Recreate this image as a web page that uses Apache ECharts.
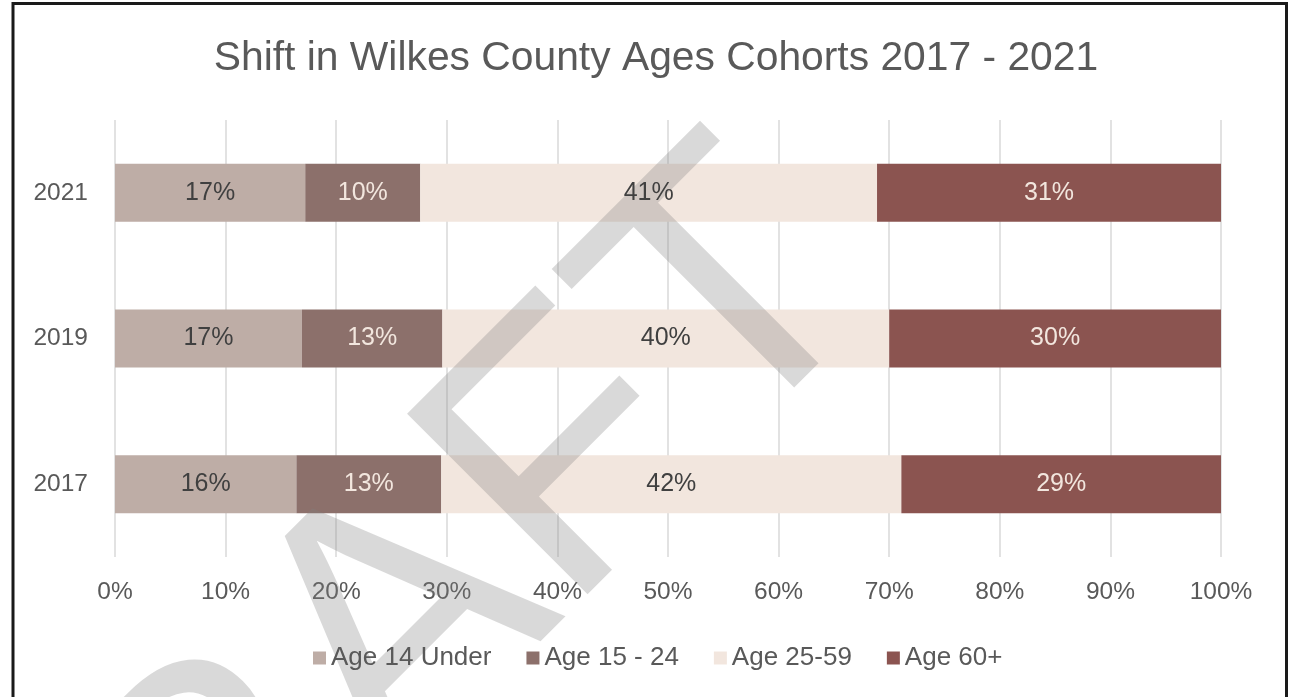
<!DOCTYPE html>
<html>
<head>
<meta charset="utf-8">
<style>
  html, body { margin: 0; padding: 0; background: #ffffff; }
  #chart { width: 1290px; height: 697px; }
</style>
<script src="https://cdn.jsdelivr.net/npm/echarts@6/dist/echarts.min.js"></script>
</head>
<body>
<div id="chart"></div>
<script>
const years = ['2017', '2019', '2021'];
const ageUnder14 = [16.4, 16.9, 17.2];
const age15to24 = [13.1, 12.7, 10.4];
const age25to59 = [41.6, 40.4, 41.3];
const age60plus = [28.9, 30.0, 31.1];
const seriesNames = ['Age 14 Under', 'Age 15 - 24', 'Age 25-59', 'Age 60+'];
const xTicks = [0, 10, 20, 30, 40, 50, 60, 70, 80, 90, 100];

const FONT = "'Liberation Sans', Arial, sans-serif";
const colors = ['#BEADA6', '#8C706B', '#F2E6DE', '#8B5450'];
const labelColors = ['#404040', '#F2E6DE', '#404040', '#F2E6DE'];
const seriesData = [ageUnder14, age15to24, age25to59, age60plus];

const chart = echarts.init(document.getElementById('chart'), null, { renderer: 'canvas' });

const barSeries = seriesNames.map((name, i) => ({
  name: name,
  type: 'bar',
  stack: 'total',
  barWidth: 58,
  barGap: '-100%',
  z: 2,
  data: seriesData[i],
  itemStyle: { color: colors[i] },
  label: { show: false }
}));

const labelSeries = seriesNames.map((name, i) => ({
  name: name,
  type: 'bar',
  stack: 'labels',
  barWidth: 58,
  barGap: '-100%',
  z: 5,
  silent: true,
  data: seriesData[i],
  itemStyle: { color: 'rgba(0,0,0,0)' },
  label: {
    show: true,
    position: 'inside',
    formatter: p => Math.round(p.value) + '%',
    fontFamily: FONT,
    fontSize: 25,
    color: labelColors[i]
  }
}));

const option = {
  backgroundColor: '#ffffff',
  animation: false,
  title: {
    text: 'Shift in Wilkes County Ages Cohorts 2017 - 2021',
    left: 651,
    textAlign: 'center',
    top: 33,
    textStyle: { fontFamily: FONT, fontSize: 40.8, fontWeight: 'normal', color: '#595959' }
  },
  grid: { left: 115, right: 69, top: 120, bottom: 140, containLabel: false },
  legend: {
    data: seriesNames,
    left: 308,
    top: 640,
    icon: 'rect',
    itemWidth: 13,
    itemHeight: 13,
    itemGap: 35,
    textStyle: { fontFamily: FONT, fontSize: 26, color: '#595959' }
  },
  xAxis: {
    type: 'value',
    min: xTicks[0],
    max: xTicks[xTicks.length - 1],
    interval: 10,
    axisLine: { show: false },
    axisTick: { show: false },
    axisLabel: { formatter: '{value}%', fontFamily: FONT, fontSize: 24.5, color: '#595959', margin: 23 },
    splitLine: { show: true, lineStyle: { color: '#d9d9d9', width: 1.5 } }
  },
  yAxis: {
    type: 'category',
    data: years,
    axisLine: { show: false },
    axisTick: { show: false },
    axisLabel: { fontFamily: FONT, fontSize: 24.5, color: '#595959', margin: 27 }
  },
  series: barSeries.concat(labelSeries),
  graphic: [
    {
      type: 'rect',
      z: 100,
      silent: true,
      shape: { x: 13, y: 3.5, width: 1273.5, height: 720 },
      style: { fill: 'none', stroke: '#1a1a1a', lineWidth: 3 }
    },
    {
      type: 'text',
      z: 3,
      silent: true,
      x: 377,
      y: 660,
      rotation: Math.PI / 4,
      style: {
        text: 'DRAFT',
        x: 0,
        y: 0,
        textAlign: 'center',
        textVerticalAlign: 'middle',
        font: "371px 'Liberation Sans', Arial, sans-serif",
        fill: 'rgba(128,128,128,0.3)'
      }
    }
  ]
};

chart.setOption(option);
</script>
</body>
</html>
